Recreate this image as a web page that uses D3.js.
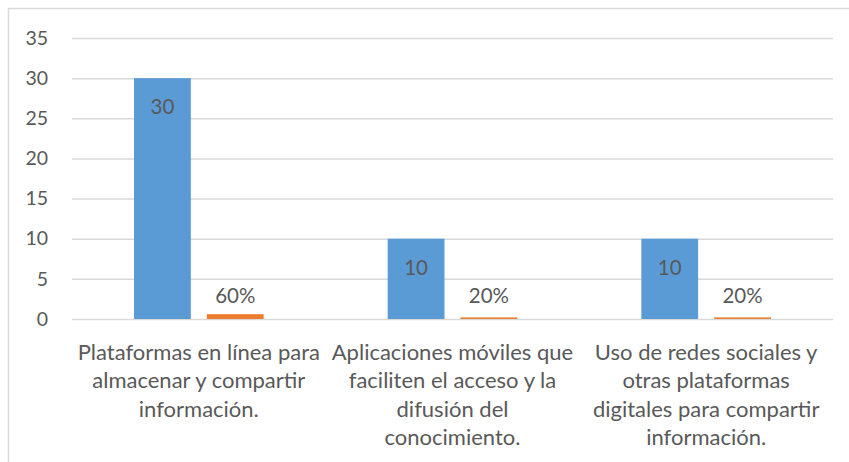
<!DOCTYPE html>
<html lang="es">
<head>
<meta charset="utf-8">
<script src="https://d3js.org/d3.v7.min.js"></script>
<style>
  body { margin: 0; background: #fff; }
  svg text { font-family: Lato, "Open Sans", sans-serif; fill: #595959; }
</style>
</head>
<body>
<svg id="chart" width="849" height="462"></svg>
<script>
// datos
var categories = [
  ["Plataformas en línea para", "almacenar y compartir", "información."],
  ["Aplicaciones móviles que", "faciliten el acceso y la", "difusión del", "conocimiento."],
  ["Uso de redes sociales y", "otras plataformas", "digitales para compartir", "información."]
];
var cantidad = [30, 10, 10];
var porcentaje = [0.6, 0.2, 0.2];
var porcentajeLabels = ["60%", "20%", "20%"];
var yTicks = [0, 5, 10, 15, 20, 25, 30, 35];

var svg = d3.select("#chart");
var margin = {left: 72, right: 16, top: 38, bottom: 143};
var width = 849 - margin.left - margin.right;
var height = 462 - margin.top - margin.bottom;

// chart border
svg.append("rect")
  .attr("x", 8.5).attr("y", 8.5)
  .attr("width", 860).attr("height", 480)
  .attr("fill", "none")
  .attr("stroke", "#d9d9d9")
  .attr("stroke-width", 1.5);

var g = svg.append("g").attr("transform", "translate(" + margin.left + "," + margin.top + ")");

var x = d3.scaleBand().domain(d3.range(categories.length)).range([0, width]).paddingInner(0).paddingOuter(0);
var y = d3.scaleLinear().domain([0, 35]).range([height, 0]);

var xInner = d3.scaleBand().domain([0, 1]).range([62, x.bandwidth() - 62]).paddingInner(0.22);

// grid
var yAxis = d3.axisLeft(y).tickValues(yTicks).tickSize(-width).tickPadding(24);
var ga = g.append("g").call(yAxis);
ga.select(".domain").remove();
ga.selectAll(".tick line").attr("stroke", "#d9d9d9").attr("stroke-width", 1.5);
ga.selectAll(".tick text").style("font-size", "19.5px").attr("fill", "#595959");

// barras
var grp = g.selectAll(".cat").data(categories).enter().append("g")
  .attr("transform", function (d, i) { return "translate(" + x(i) + ",0)"; });

grp.append("rect")
  .attr("x", xInner(0))
  .attr("width", xInner.bandwidth())
  .attr("y", function (d, i) { return y(cantidad[i]); })
  .attr("height", function (d, i) { return y(0) - y(cantidad[i]); })
  .attr("fill", "#5b9bd5");

grp.append("rect")
  .attr("x", xInner(1))
  .attr("width", xInner.bandwidth())
  .attr("y", function (d, i) { return y(porcentaje[i]); })
  .attr("height", function (d, i) { return y(0) - y(porcentaje[i]); })
  .attr("fill", "#ed7d31");

grp.append("text")
  .attr("x", xInner(0) + xInner.bandwidth() / 2)
  .attr("y", function (d, i) { return y(cantidad[i]) + 36; })
  .attr("text-anchor", "middle")
  .style("font-size", "20.5px")
  .attr("fill", "#404040")
  .text(function (d, i) { return cantidad[i]; });

grp.append("text")
  .attr("x", xInner(1) + xInner.bandwidth() / 2)
  .attr("y", y(0) - 16)
  .attr("text-anchor", "middle")
  .style("font-size", "20.5px")
  .attr("fill", "#404040")
  .text(function (d, i) { return porcentajeLabels[i]; });

// etiquetas de categoría
grp.each(function (lines) {
  var t = d3.select(this).append("text")
    .attr("text-anchor", "middle")
    .style("font-size", "22px");
  lines.forEach(function (l, k) {
    t.append("tspan")
      .attr("x", x.bandwidth() / 2)
      .attr("y", height + 41 + k * 28.3)
      .text(l);
  });
});
</script>
</body>
</html>
